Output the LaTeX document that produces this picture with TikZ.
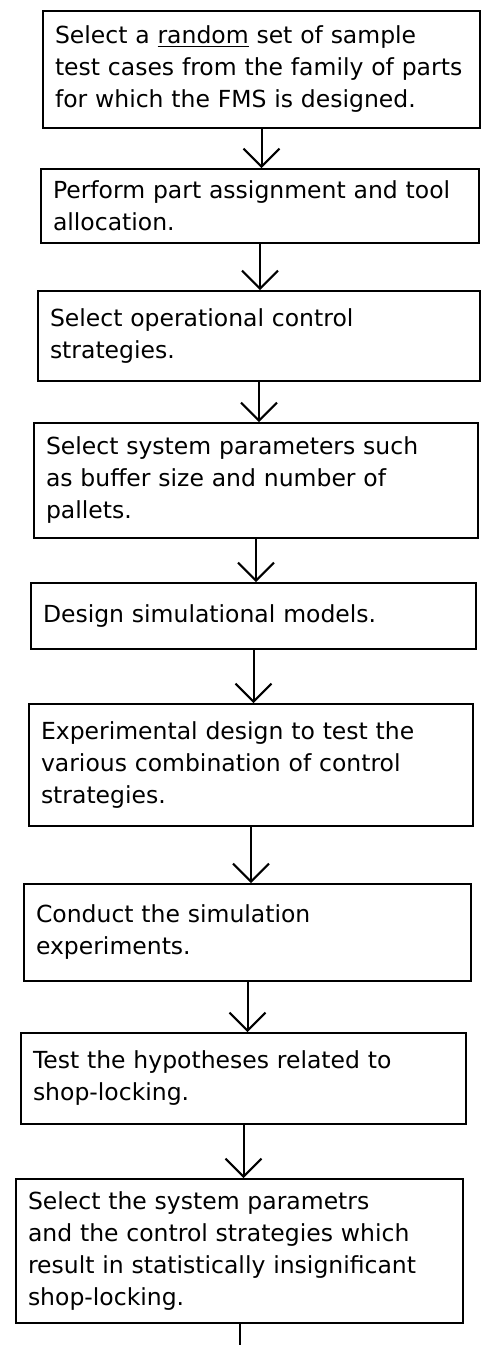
\documentclass[tikz,border=0pt]{standalone}
\usepackage{fontspec}
\setmainfont{DejaVu Sans}[WordSpace=0.75]
\usetikzlibrary{arrows.meta}

\begin{document}
\begin{tikzpicture}[x=1pt, y=-1pt, font=\fontsize{23.5}{32}\selectfont,
  stage/.style={draw, rectangle, line width=2pt, anchor=north west,
    align=left, inner xsep=12pt, inner ysep=0pt},
  flow/.style={line width=2pt, -{Straight Barb[length=18pt, width=36pt]}}]

\useasboundingbox (0,0) rectangle (480,1345);

\node [stage, text width=413pt, minimum height=117pt] (select) at (42,10)
  {Select a \underline{random} set of sample\\test cases from the family of parts\\for which the FMS is designed.};
\node [stage, text width=414pt, minimum height=74pt] (assign) at (40,168)
  {Perform part assignment and tool\\allocation.};
\node [stage, text width=418pt, minimum height=90pt] (strategy) at (37,290)
  {Select operational control\\strategies.};
\node [stage, text width=420pt, minimum height=115pt] (params) at (33,422)
  {Select system parameters such\\as buffer size and number of\\pallets.};
\node [stage, text width=421pt, minimum height=66pt] (model) at (30,582)
  {Design simulational models.};
\node [stage, text width=420pt, minimum height=122pt] (design) at (28,703)
  {Experimental design to test the\\various combination of control\\strategies.};
\node [stage, text width=423pt, minimum height=97pt] (conduct) at (23,883)
  {Conduct the simulation\\experiments.};
\node [stage, text width=421pt, minimum height=91pt] (test) at (20,1032)
  {Test the hypotheses related to\\shop-locking.};
\node [stage, text width=423pt, minimum height=144pt] (choose) at (15,1178)
  {Select the system parametrs\\and the control strategies which\\result in statistically insignificant\\shop-locking.};

\coordinate (tail) at (238,1345);

\draw [flow] (select.south) -- (select.south |- assign.north);
\draw [flow] (assign.south) -- (assign.south |- strategy.north);
\draw [flow] (strategy.south) -- (strategy.south |- params.north);
\draw [flow] (params.south) -- (params.south |- model.north);
\draw [flow] (model.south) -- (model.south |- design.north);
\draw [flow] (design.south) -- (design.south |- conduct.north);
\draw [flow] (conduct.south) -- (conduct.south |- test.north);
\draw [flow] (test.south) -- (test.south |- choose.north);
\draw [line width=2pt] (choose.south) -- (choose.south |- tail);

\end{tikzpicture}
\end{document}
